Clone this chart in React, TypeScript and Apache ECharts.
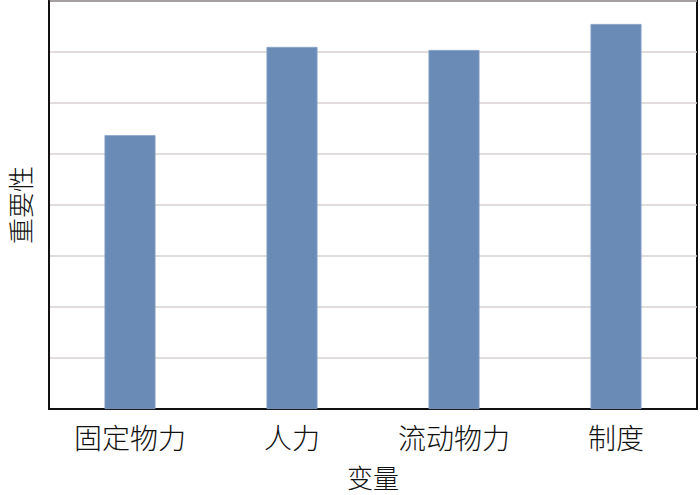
import React, { useEffect, useRef } from "react";
import * as echarts from "echarts";

const categories = ["固定物力", "人力", "流动物力", "制度"];
const importance = [5.37, 7.1, 7.04, 7.55];
const xAxisName = "变量";
const yAxisName = "重要性";

export default function App() {
  const ref = useRef<HTMLDivElement>(null);
  useEffect(() => {
    if (!ref.current) return;
    const chart = echarts.init(ref.current, null, { renderer: "svg" });
    const font = '"Noto Sans CJK SC", sans-serif';
    chart.setOption({
      animation: false,
      backgroundColor: "#ffffff",
      grid: {
        left: 49,
        right: 3,
        top: 1,
        bottom: 86,
        show: true,
        borderColor: "#111",
        borderWidth: 2,
        outerBoundsMode: "none",
      },
      xAxis: {
        type: "category",
        data: categories,
        name: xAxisName,
        nameLocation: "middle",
        nameGap: 54,
        nameTextStyle: { fontSize: 26, lineHeight: 26, color: "#111", fontFamily: font, fontWeight: 300, verticalAlign: "top" },
        axisLine: { show: true, lineStyle: { color: "#111", width: 2 } },
        axisTick: { show: false },
        axisLabel: { fontSize: 28, color: "#111", fontFamily: font, fontWeight: 300, margin: 14 },
      },
      yAxis: {
        type: "value",
        min: 0,
        max: 8,
        interval: 1,
        name: yAxisName,
        nameLocation: "middle",
        nameRotate: 90,
        nameGap: 17,
        nameTextStyle: { fontSize: 26, lineHeight: 26, color: "#111", fontFamily: font, fontWeight: 300 },
        axisLine: { show: true, lineStyle: { color: "#111", width: 2 } },
        axisTick: { show: false },
        axisLabel: { show: false },
        splitLine: { show: true, lineStyle: { color: "#d8cfcf", width: 1.5 } },
      },
      series: [
        {
          type: "bar",
          data: importance,
          barWidth: "31.5%",
          itemStyle: { color: "#6a8bb5", borderColor: "#8aa6cc", borderWidth: 0.8 },
        },
      ],
    });
    return () => chart.dispose();
  }, []);
  return <div ref={ref} style={{ width: 700, height: 495, position: "absolute", left: 0, top: 0 }} />;
}
